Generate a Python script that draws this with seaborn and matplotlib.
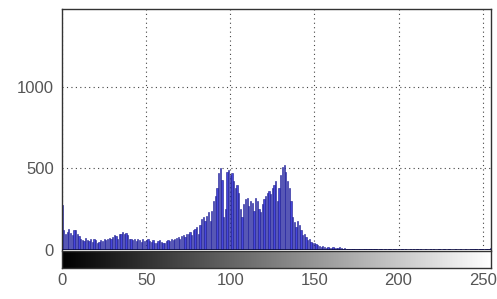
import matplotlib.pyplot as plt
import numpy as np
import pandas as pd
import seaborn as sns

# pixel counts per gray level
counts = [
    275, 120, 95, 110, 130, 105, 90, 120, 125, 100, 85, 70, 60, 55, 75, 60,
    55, 70, 50, 65, 60, 45, 50, 60, 55, 65, 60, 70, 75, 65, 80, 90,
    85, 70, 95, 100, 110, 95, 105, 90, 70, 65, 60, 70, 55, 65, 60, 50,
    70, 55, 60, 65, 55, 50, 60, 45, 40, 55, 60, 50, 45, 40, 55, 60,
    55, 65, 60, 70, 75, 80, 70, 85, 90, 80, 95, 100, 110, 90, 120, 130,
    140, 100, 150, 190, 200, 180, 210, 230, 180, 240, 300, 330, 380, 470, 500, 430,
    200, 250, 480, 490, 460, 470, 420, 380, 400, 350, 250, 200, 280, 310, 320, 270,
    300, 290, 240, 320, 300, 250, 230, 280, 310, 330, 350, 360, 340, 380, 400, 420,
    300, 380, 460, 510, 520, 480, 420, 380, 300, 200, 170, 140, 180, 150, 120, 90,
    100, 80, 60, 70, 50, 45, 40, 35, 30, 25, 20, 22, 18, 15, 20, 12,
    15, 18, 10, 14, 12, 16, 10, 8, 10, 7, 6, 8, 5, 6, 4, 5,
    5, 4, 6, 3, 4, 5, 3, 4, 3, 5, 4, 3, 2, 4, 3, 2,
    3, 2, 4, 3, 2, 5, 3, 2, 3, 2, 4, 2, 3, 2, 2, 3,
    2, 3, 2, 4, 2, 3, 2, 2, 3, 2, 2, 3, 2, 4, 2, 2,
    3, 2, 2, 3, 2, 2, 3, 2, 2, 2, 3, 2, 2, 3, 2, 2,
    3, 2, 2, 3, 4, 6, 3, 2, 4, 3, 5, 2, 3, 4, 6, 10,
]
levels = list(range(256))
x_ticks = [0, 50, 100, 150, 200, 250]
y_ticks = [0, 500, 1000]

df = pd.DataFrame({"level": levels, "count": counts})

sns.set_style("white")
plt.rcParams["font.family"] = ["Liberation Sans", "DejaVu Sans"]

fig = plt.figure(figsize=(4.97, 2.99), dpi=100)
ax = fig.add_axes([0.125, 0.164, 0.863, 0.806])
cax = fig.add_axes([0.125, 0.104, 0.863, 0.057])

sns.histplot(
    df,
    x="level",
    weights="count",
    discrete=True,
    shrink=0.75,
    color="#4646dc",
    edgecolor="#1c1c8a",
    linewidth=0.4,
    alpha=1,
    ax=ax,
)
ax.axhline(0, color="#101040", lw=1.2, zorder=3)
ax.set_xlim(0, 255)
ax.set_ylim(0, 1475)
ax.set_xticks(x_ticks)
ax.set_xticklabels([])
ax.set_yticks(y_ticks)
ax.set_yticklabels([str(v) for v in y_ticks], fontsize=12, color="#555555")
ax.set_xlabel("")
ax.set_ylabel("")
ax.grid(True, linestyle=(0, (1, 3)), color="#444444", linewidth=0.8)
ax.set_axisbelow(True)
ax.tick_params(direction="in", length=3, color="#222222", pad=6)
ax.tick_params(axis="x", length=0)
for s in ax.spines.values():
    s.set_color("#333333")
    s.set_linewidth(1.0)
ax.spines["bottom"].set_visible(False)

cax.imshow(np.arange(256)[None, :], cmap="gray", aspect="auto", extent=(0, 255, 0, 1))
cax.set_xlim(0, 255)
cax.set_yticks([])
cax.set_xticks(x_ticks)
cax.set_xticklabels([str(v) for v in x_ticks], fontsize=12, color="#555555")
cax.tick_params(axis="x", direction="in", length=3, color="#222222", pad=4)
for s in cax.spines.values():
    s.set_color("#333333")
    s.set_linewidth(1.0)

fig.savefig("out.png", dpi=100)
